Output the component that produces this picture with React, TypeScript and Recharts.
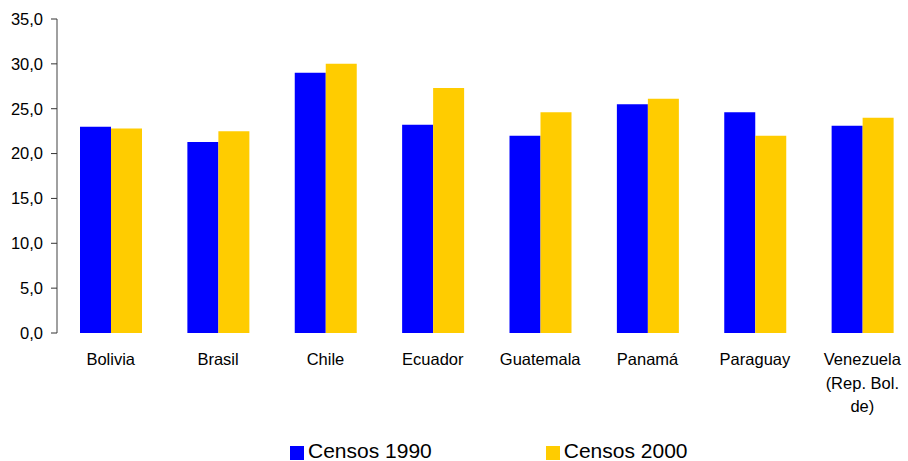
import { BarChart, Bar, XAxis, YAxis, Legend } from 'recharts';

const categories = [
  'Bolivia', 'Brasil', 'Chile', 'Ecuador', 'Guatemala', 'Panamá', 'Paraguay',
  'Venezuela\n(Rep. Bol.\nde)'
];
const censos1990 = [23.0, 21.3, 29.0, 23.2, 22.0, 25.5, 24.6, 23.1];
const censos2000 = [22.8, 22.5, 30.0, 27.3, 24.6, 26.1, 22.0, 24.0];
const yTicks = [0, 5, 10, 15, 20, 25, 30, 35];
const boundaryTicks = categories.map((_, i) => i).concat(categories.length);

const data = categories.map((name, i) => ({
  name,
  c1990: censos1990[i],
  c2000: censos2000[i]
}));

const FONT = '"Liberation Sans", Arial, sans-serif';
const AXIS = '#808080';

const CatTick = ({ x, y, payload }: any) => {
  const lines = String(payload.value).split('\n');
  return (
    <text x={x} y={y} textAnchor="middle" fontSize={16.5} fontFamily={FONT} fill="#000">
      {lines.map((l, i) => (
        <tspan key={i} x={x} dy={i === 0 ? 32 : 23.5}>{l}</tspan>
      ))}
    </text>
  );
};

const LegendBox = () => (
  <div style={{
    boxSizing: 'content-box', height: 20, paddingTop: 6, display: 'flex', alignItems: 'center',
    paddingLeft: 290, gap: 114, fontFamily: FONT, fontSize: 21, color: '#000'
  }}>
    {[['Censos 1990', '#0000ff'], ['Censos 2000', '#ffcc00']].map(([label, color]) => (
      <div key={label} style={{ display: 'flex', alignItems: 'center', gap: 4 }}>
        <span style={{ width: 14, height: 14, background: color, display: 'inline-block', marginTop: 3 }} />
        <span>{label}</span>
      </div>
    ))}
  </div>
);

export default function App() {
  return (
    <div style={{ position: 'absolute', left: 0, top: 0, width: 908, height: 461, overflow: 'hidden', background: '#fff' }}>
      <BarChart
        width={916}
        height={461}
        data={data}
        margin={{ top: 19, right: 0, left: 0, bottom: 0 }}
        barGap={0}
        barSize={31}
      >
        <XAxis
          xAxisId="grid"
          type="number"
          domain={[0, categories.length]}
          ticks={boundaryTicks}
          allowDataOverflow
          height={0}
          tickSize={6}
          tick={() => <g />}
          tickLine={{ stroke: '#333' }}
          axisLine={{ stroke: AXIS, strokeWidth: 1.5 }}
        />
        <XAxis
          xAxisId="cat"
          dataKey="name"
          interval={0}
          height={102}
          tickSize={0}
          tickMargin={0}
          tickLine={false}
          axisLine={false}
          tick={<CatTick />}
        />
        <YAxis
          domain={[0, 35]}
          ticks={yTicks}
          width={57}
          tickSize={6}
          tickMargin={8}
          tickLine={{ stroke: '#333' }}
          axisLine={{ stroke: AXIS, strokeWidth: 1.5 }}
          tickFormatter={(v: number) => v.toFixed(1).replace('.', ',')}
          tick={{ fontSize: 16.5, fontFamily: FONT, fill: '#000' }}
        />
        <Legend verticalAlign="bottom" content={<LegendBox />} wrapperStyle={{ left: 0, width: 908 }} />
        <Bar xAxisId="cat" dataKey="c1990" name="Censos 1990" fill="#0000ff" isAnimationActive={false} />
        <Bar xAxisId="cat" dataKey="c2000" name="Censos 2000" fill="#ffcc00" isAnimationActive={false} />
      </BarChart>
    </div>
  );
}
